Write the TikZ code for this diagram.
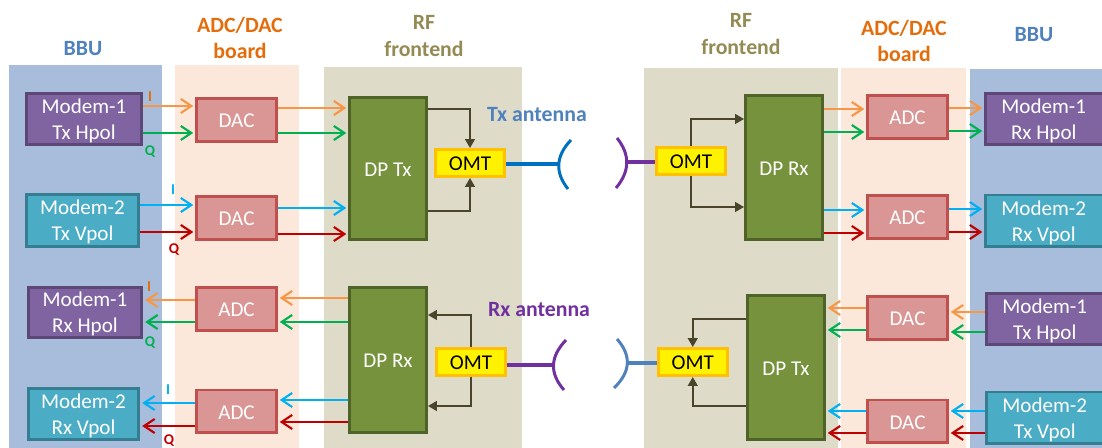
\documentclass[tikz,border=0pt]{standalone}
\usepackage{fontspec}
\setmainfont{Carlito}
\usetikzlibrary{arrows.meta}
\definecolor{panelBBU}{HTML}{A8BDDB}
\definecolor{panelADC}{HTML}{FBE8DA}
\definecolor{panelRF}{HTML}{DEDBC8}
\definecolor{titleBBU}{HTML}{4F81BD}
\definecolor{titleADC}{HTML}{E46C0A}
\definecolor{titleRF}{HTML}{948A54}
\definecolor{antPurple}{HTML}{7030A0}
\definecolor{antBlue}{HTML}{0070C0}
\definecolor{sigOrange}{HTML}{F79646}
\definecolor{sigGreen}{HTML}{00B050}
\definecolor{sigCyan}{HTML}{00B0F0}
\definecolor{sigRed}{HTML}{C00000}
\definecolor{omtLine}{HTML}{4A452A}
\definecolor{modemHfill}{HTML}{8064A2}
\definecolor{modemHline}{HTML}{5C4776}
\definecolor{modemVfill}{HTML}{4BACC6}
\definecolor{modemVline}{HTML}{357D91}
\definecolor{convfill}{HTML}{D99694}
\definecolor{convline}{HTML}{C0504D}
\definecolor{dpfill}{HTML}{76923C}
\definecolor{dpline}{HTML}{4F6228}
\definecolor{omtedge}{HTML}{FFC000}
\tikzset{
  box/.style={rectangle, draw, line width=1.7pt, inner sep=0pt, text=white, align=center, font=\fontsize{12}{14.7}\selectfont, execute at begin node=\rule{0pt}{8.7pt}},
  modemH/.style={box, fill=modemHfill, draw=modemHline, text depth=0pt},
  modemV/.style={box, fill=modemVfill, draw=modemVline, text depth=0pt},
  conv/.style={box, fill=convfill, draw=convline, minimum width=1.6cm, minimum height=0.86cm},
  dphase/.style={box, fill=dpfill, draw=dpline, minimum width=1.54cm, minimum height=2.84cm},
  omt/.style={box, fill=yellow, draw=omtedge, text=black, minimum width=1.38cm, minimum height=0.54cm},
  head/.style={font=\fontsize{12.4}{15}\selectfont\bfseries, align=center},
  iq/.style={font=\fontsize{8.5}{9}\selectfont\bfseries, inner sep=0pt},
  sig/.style={line width=1.2pt, -{Straight Barb[length=6pt, width=8pt, line width=1.2pt]}, shorten >=1pt},
  sigO/.style={sig, sigOrange},
  sigG/.style={sig, sigGreen},
  sigC/.style={sig, sigCyan},
  sigR/.style={sig, sigRed},
  inner/.style={line width=1pt, omtLine, -{Triangle[length=5pt, width=5.5pt]}},
  feed/.style={line width=2pt},
  dish/.style={line width=1.7pt},
}
\begin{document}
\begin{tikzpicture}[x=0.02cm, y=-0.02cm]
  \useasboundingbox (0,0) rectangle (1102,448);
  % Panels
  \fill[panelBBU] (9,65) rectangle (162,448);
  \fill[panelADC] (175,65) rectangle (299,448);
  \fill[panelRF] (324,67) rectangle (522,448);
  \fill[panelRF] (644,68) rectangle (838,448);
  \fill[panelADC] (841,68) rectangle (966,448);
  \fill[panelBBU] (970,69) rectangle (1102,448);

  % Titles
  \node[head, titleBBU] (tBBUl) at (83,49) {BBU};
  \node[head, titleADC] (tADCl) at (240,38) {ADC/DAC\\board};
  \node[head, titleRF] (tRFl) at (424,36) {RF\\frontend};
  \node[head, titleRF] (tRFr) at (741,34) {RF\\frontend};
  \node[head, titleADC] (tADCr) at (904,41) {ADC/DAC\\board};
  \node[head, titleBBU] (tBBUr) at (1034,35) {BBU};
  \node[head, titleBBU] (tTxAnt) at (537,115) {Tx antenna};
  \node[head, antPurple] (tRxAnt) at (539,310) {Rx antenna};

  % Left side
  \node[modemH, minimum width=2.32cm, minimum height=1.02cm] (modTxH) at (84,119) {Modem-1\\Tx Hpol};
  \node[modemV, minimum width=2.26cm, minimum height=1.04cm] (modTxV) at (82.5,220.5) {Modem-2\\Tx Vpol};
  \node[modemH, minimum width=2.28cm, minimum height=1cm] (modRxH) at (85,312.5) {Modem-1\\Rx Hpol};
  \node[modemV, minimum width=2.22cm, minimum height=1.02cm] (modRxV) at (83.5,414) {Modem-2\\Rx Vpol};
  \node[conv] (dacA) at (236.5,120) {DAC};
  \node[conv] (dacB) at (236.5,218) {DAC};
  \node[conv] (adcA) at (236.5,309) {ADC};
  \node[conv] (adcB) at (236.5,411.5) {ADC};
  \node[dphase] (dpTx) at (388,168.5) {DP Tx};
  \node[dphase, minimum height=2.9cm] (dpRx) at (388,360) {DP Rx};
  \node[omt] (omtTx) at (470,163) {OMT};
  \node[omt] (omtRx) at (471,362) {OMT};

  % Right side
  \node[omt] (omtRxR) at (691,161) {OMT};
  \node[omt] (omtTxR) at (692.75,362) {OMT};
  \node[dphase, minimum height=2.9cm] (dpRxR) at (784,167.5) {DP Rx};
  \node[dphase, minimum height=2.9cm] (dpTxR) at (786,367.5) {DP Tx};
  \node[conv] (adcC) at (907.5,117) {ADC};
  \node[conv] (adcD) at (907.5,217) {ADC};
  \node[conv] (dacC) at (907.5,318) {DAC};
  \node[conv] (dacD) at (907.5,421.5) {DAC};
  \node[modemH, minimum width=2.5cm, minimum height=1.02cm] (modRxHr) at (1048,119) {\hspace*{-0.17cm}Modem-1\\\hspace*{-0.17cm}Rx Hpol};
  \node[modemV, minimum width=2.5cm, minimum height=1.04cm] (modRxVr) at (1048,221) {\hspace*{-0.17cm}Modem-2\\\hspace*{-0.17cm}Rx Vpol};
  \node[modemH, minimum width=2.5cm, minimum height=1.02cm] (modTxHr) at (1049,319) {\hspace*{-0.17cm}Modem-1\\\hspace*{-0.17cm}Tx Hpol};
  \node[modemV, minimum width=2.5cm, minimum height=1.04cm] (modTxVr) at (1049,418) {\hspace*{-0.17cm}Modem-2\\\hspace*{-0.17cm}Tx Vpol};

  % I and Q signals, left to right
  \foreach \from/\to/\y/\s in {modTxH/dacA/106/sigO, modTxH/dacA/133/sigG, modTxV/dacB/205/sigC, modTxV/dacB/232/sigR,
      dacA/dpTx/108/sigO, dacA/dpTx/133/sigG, dacB/dpTx/208/sigC, dacB/dpTx/234/sigR,
      dpRxR/adcC/109/sigO, dpRxR/adcC/132/sigG, dpRxR/adcD/210/sigC, dpRxR/adcD/233/sigR,
      adcC/modRxHr/108/sigO, adcC/modRxHr/131/sigG, adcD/modRxVr/209/sigC, adcD/modRxVr/232/sigR}{
    \draw[\s] (\from.east |- 0,\y) -- (\to.west |- 0,\y);
  }
  % I and Q signals, right to left
  \foreach \from/\to/\y/\s in {adcA/modRxH/300/sigO, adcA/modRxH/322/sigG, adcB/modRxV/403/sigC, adcB/modRxV/426/sigR,
      dpRx/adcA/298/sigO, dpRx/adcA/322/sigG, dpRx/adcB/400/sigC, dpRx/adcB/422/sigR,
      modTxHr/dacC/312/sigO, modTxHr/dacC/332/sigG, modTxVr/dacD/411/sigC, modTxVr/dacD/433/sigR,
      dacC/dpTxR/308/sigO, dacC/dpTxR/330/sigG, dacD/dpTxR/411/sigC, dacD/dpTxR/433/sigR}{
    \draw[\s] (\from.west |- 0,\y) -- (\to.east |- 0,\y);
  }

  % OMT branches
  \draw[inner] (dpTx.east |- 0,109) -| (omtTx.north);
  \draw[inner] (dpTx.east |- 0,211) -| (omtTx.south);
  \draw[inner] (omtRx.north) |- (dpRx.east |- 0,315);
  \draw[inner] (omtRx.south) |- (dpRx.east |- 0,406);
  \draw[inner] (omtRxR.north) |- (dpRxR.west |- 0,119);
  \draw[inner] (omtRxR.south) |- (dpRxR.west |- 0,207);
  \draw[inner] (dpTxR.west |- 0,319) -| (omtTxR.north);
  \draw[inner] (dpTxR.west |- 0,406) -| (omtTxR.south);

  % Antennas
  \coordinate (apexTx) at (559,164);
  \coordinate (apexRx) at (627,162);
  \coordinate (apexTxB) at (554,365);
  \coordinate (apexRxB) at (627,363);
  \draw[feed, antBlue] (omtTx.east |- apexTx) -- (apexTx);
  \draw[feed, antPurple] (apexRx) -- (omtRxR.west |- apexRx);
  \draw[feed, antPurple] (omtRx.east |- apexTxB) -- (apexTxB);
  \draw[feed, titleBBU] (apexRxB) -- (omtTxR.west |- apexRxB);
  \draw[dish, antBlue] (571,140) .. controls (555.7,156) and (554.7,172.3) .. (568,189);
  \draw[dish, antPurple] (617,138) .. controls (630.3,154.7) and (630,171.3) .. (616,188);
  \draw[dish, antPurple] (566,340) .. controls (550,356.7) and (549.3,373.3) .. (564,390);
  \draw[dish, titleBBU] (617,339) .. controls (631.7,355.7) and (630.7,372) .. (614,388);

  % I and Q marks
  \node[iq, titleADC] (iA) at (150,97) {I};
  \node[iq, sigGreen] (qA) at (150,152) {Q};
  \node[iq, sigCyan] (iB) at (173,190) {I};
  \node[iq, sigRed] (qB) at (174,250) {Q};
  \node[iq, titleADC] (iC) at (149,287) {I};
  \node[iq, sigGreen] (qC) at (150,343) {Q};
  \node[iq, sigCyan] (iD) at (168,390) {I};
  \node[iq, sigRed] (qD) at (169,441) {Q};
\end{tikzpicture}
\end{document}
